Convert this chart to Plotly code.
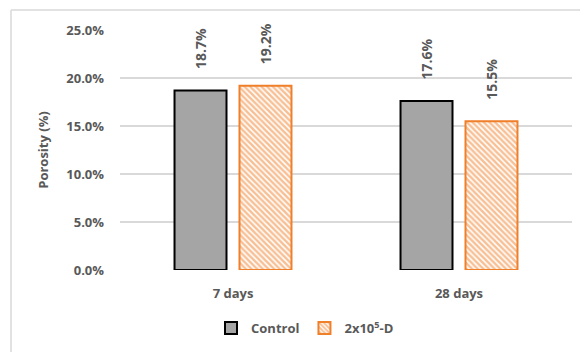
import plotly.graph_objects as go

# Porosity results by curing age
categories = ["7 days", "28 days"]
control = [0.187, 0.176]
treated = [0.192, 0.155]
series_names = ["Control", "2x10<sup>5</sup>-D"]
y_ticks = [0.0, 0.05, 0.10, 0.15, 0.20, 0.25]

W, H = 580, 352
text_color = "#595959"
font_family = "'Open Sans', Lato, sans-serif"

# plot area in pixels and bar grouping
x_dom = (120, 572)
y_dom = (30, 270)
bargap, bargroupgap = 0.425, 0.2
band = (x_dom[1] - x_dom[0]) / len(categories)
slot = band * (1 - bargap) / 2
offsets = [-slot / 2, slot / 2]

fig = go.Figure()
fig.add_trace(go.Bar(
    x=categories, y=control, name=f"<b>{series_names[0]}</b>",
    marker=dict(color="#A5A5A5", line=dict(color="#000000", width=2)),
))
fig.add_trace(go.Bar(
    x=categories, y=treated, name=f"<b>{series_names[1]}</b>",
    marker=dict(color="#FFFFFF", line=dict(color="#F07F2A", width=2),
                pattern=dict(shape="\\", fgcolor="#F07F2A", bgcolor="#FFFFFF",
                             size=4, solidity=0.62)),
))

# value labels above each bar, rotated to read upwards
annotations = []
for series, dx in zip([control, treated], offsets):
    for cat, v in zip(categories, series):
        annotations.append(dict(
            x=cat, y=v, xref="x", yref="y", xshift=dx, yshift=42,
            text=f"<b>{v * 100:.1f}%</b>", textangle=-90,
            xanchor="center", yanchor="middle", showarrow=False,
            font=dict(family=font_family, size=14, color=text_color),
        ))

fig.update_layout(
    width=W, height=H,
    margin=dict(l=0, r=0, t=0, b=0),
    paper_bgcolor="white", plot_bgcolor="white",
    barmode="group", bargap=bargap, bargroupgap=bargroupgap,
    font=dict(family=font_family, color=text_color, size=13),
    showlegend=True,
    legend=dict(orientation="h", x=305 / W, xanchor="center", y=1 - 328 / H,
                yanchor="middle", font=dict(size=13, color=text_color),
                itemwidth=30, traceorder="normal"),
    xaxis=dict(domain=[x_dom[0] / W, x_dom[1] / W], showgrid=False,
               showline=False, ticks="", automargin=False,
               ticklabelstandoff=14, tickvals=categories,
               ticktext=[f"<b>{c}</b>" for c in categories],
               tickfont=dict(size=13, color=text_color)),
    yaxis=dict(domain=[1 - y_dom[1] / H, 1 - y_dom[0] / H], range=[0, 0.25],
               tickvals=y_ticks,
               ticktext=[f"<b>{t * 100:.1f}%</b>" for t in y_ticks],
               showgrid=True, gridcolor="#D9D9D9", gridwidth=2, zeroline=False,
               showline=False, ticks="", automargin=False,
               ticklabelstandoff=15,
               tickfont=dict(size=13, color=text_color),
               title=dict(text="<b>Porosity (%)</b>", standoff=14,
                          font=dict(size=13, color=text_color))),
    annotations=annotations,
    shapes=[
        dict(type="line", xref="paper", yref="paper", x0=11 / W, x1=11 / W,
             y0=0, y1=1 - 10 / H, line=dict(color="#D9D9D9", width=1.5)),
        dict(type="line", xref="paper", yref="paper", x0=11 / W, x1=1,
             y0=1 - 10 / H, y1=1 - 10 / H, line=dict(color="#D9D9D9", width=1.5)),
    ],
)

fig.write_html("out.html")
